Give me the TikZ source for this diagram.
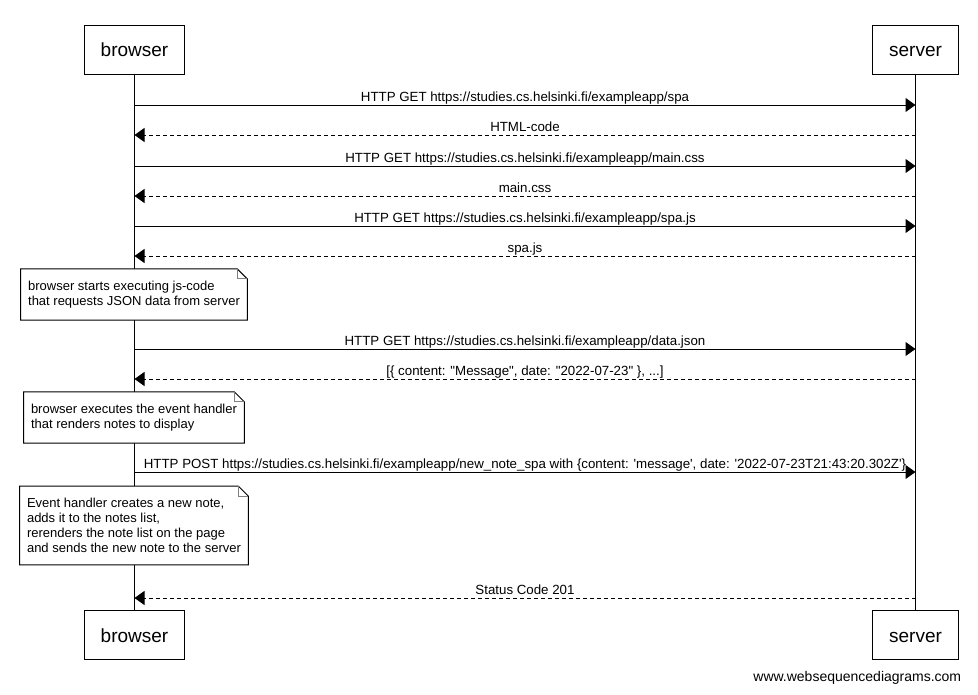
\documentclass[tikz,border=0pt]{standalone}
\usepackage{fontspec}
\setmainfont{Liberation Sans}
\usetikzlibrary{arrows.meta}

\tikzset{
  actor/.style={draw, fill=white, font=\fontsize{19}{23}\selectfont, minimum height=49pt, inner xsep=16.5pt,
    text height=14pt, text depth=0pt},
  note/.style={align=left, font=\fontsize{13}{15}\selectfont, inner xsep=7pt, inner ysep=11.5pt,
    append after command={\pgfextra{
      \draw[fill=white] (\tikzlastnode.south west) -- (\tikzlastnode.north west) -- ([xshift=-10pt]\tikzlastnode.north east)
        -- ([yshift=-10pt]\tikzlastnode.north east) -- (\tikzlastnode.south east) -- cycle;
      \draw[gray] ([xshift=-10pt]\tikzlastnode.north east) |- ([yshift=-10pt]\tikzlastnode.north east);}}},
  msg/.style={-{Triangle[length=10pt,width=14pt]}},
  reply/.style={msg, dash pattern=on 4pt off 3pt},
  lbl/.style={font=\fontsize{13.3}{15}\selectfont, anchor=base, yshift=3.5pt}
}

\begin{document}
\begin{tikzpicture}[x=1pt, y=-1pt, line width=1pt]
      \useasboundingbox (0,0) rectangle (978,694);

      % participants
      \node[actor] (bt) at (134.5,49.5) {browser};
      \node[actor] (st) at (915.5,49.5) {server};
      \node[actor] (bb) at (134.5,635) {browser};
      \node[actor] (sb) at (915.5,635) {server};

      % lifelines
      \draw (bt) -- (bb);
      \draw (st) -- (sb);

      % page load
      \draw[msg] (bt |- 0,105) -- (st |- 0,105) node[lbl, midway] {HTTP GET https://studies.cs.helsinki.fi/exampleapp/spa};
      \draw[reply] (st |- 0,135) -- (bt |- 0,135) node[lbl, midway] {HTML-code};
      \draw[msg] (bt |- 0,166) -- (st |- 0,166) node[lbl, midway] {HTTP GET https://studies.cs.helsinki.fi/exampleapp/main.css};
      \draw[reply] (st |- 0,196) -- (bt |- 0,196) node[lbl, midway] {main.css};
      \draw[msg] (bt |- 0,226) -- (st |- 0,226) node[lbl, midway] {HTTP GET https://studies.cs.helsinki.fi/exampleapp/spa.js};
      \draw[reply] (st |- 0,256) -- (bt |- 0,256) node[lbl, midway] {spa.js};

      \node[note] (n1) at (134,294.5) {browser starts executing js-code\\that requests JSON data from server};

      % data
      \draw[msg] (bt |- 0,349) -- (st |- 0,349) node[lbl, midway] {HTTP GET https://studies.cs.helsinki.fi/exampleapp/data.json};
      \draw[reply] (st |- 0,379) -- (bt |- 0,379) node[lbl, midway] {[\{ content: \textquotedbl Message\textquotedbl, date: \textquotedbl 2022-07-23\textquotedbl\ \}, ...]};

      \node[note] (n2) at (134,417.5) {browser executes the event handler\\that renders notes to display};

      % new note
      \draw[msg] (bt |- 0,472) -- (st |- 0,472) node[lbl, midway] {HTTP POST https://studies.cs.helsinki.fi/exampleapp/new\_note\_spa with \{content: \textquotesingle message\textquotesingle, date: \textquotesingle 2022-07-23T21:43:20.302Z\textquotesingle\}};

      \node[note] (n3) at (134,525.5) {Event handler creates a new note,\\adds it to the notes list,\\rerenders the note list on the page\\and sends the new note to the server};

      \draw[reply] (st |- 0,598) -- (bt |- 0,598) node[lbl, midway] {Status Code 201};

      \node[font=\fontsize{14}{16}\selectfont, anchor=east] (wsd) at (965,678) {www.websequencediagrams.com};
\end{tikzpicture}
\end{document}
